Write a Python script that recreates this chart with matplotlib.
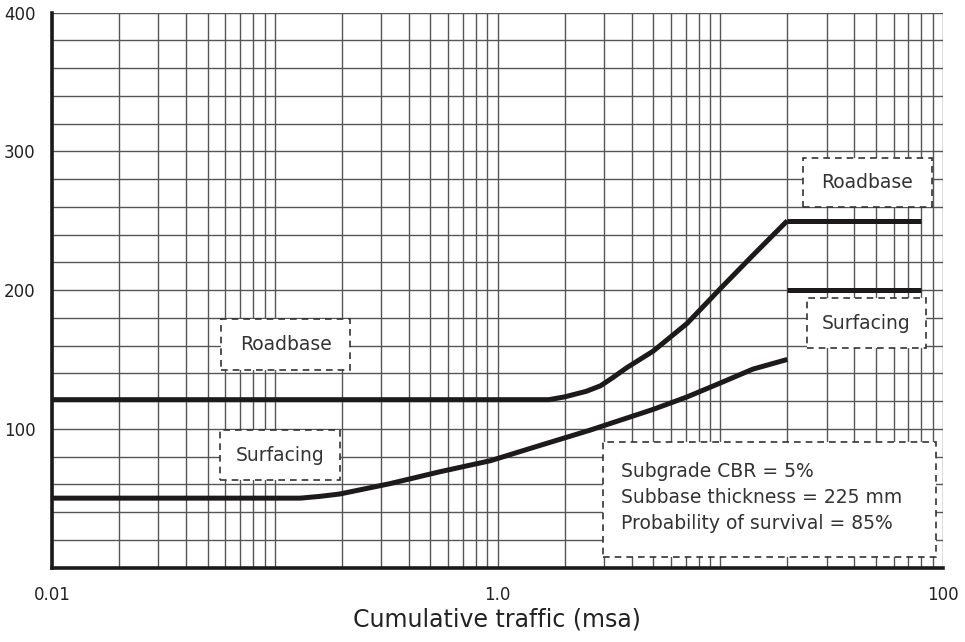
import numpy as np
import matplotlib
matplotlib.use("Agg")
import matplotlib.pyplot as plt
from matplotlib.patches import Rectangle
from matplotlib.ticker import FixedLocator, LogLocator, MultipleLocator, NullFormatter

# ---- data ----
roadbase_x = [0.01, 1.7, 2.0, 2.5, 2.9, 3.3, 3.8, 5.0, 7.1, 10.0, 14.0, 20.0]
roadbase_y = [121, 121, 123, 127, 131, 137, 144, 156, 176, 201, 225, 250]
roadbase_flat_x = [20.0, 80.0]
roadbase_flat_y = [250, 250]

surfacing_x = [0.01, 0.13, 0.16, 0.196, 0.33, 0.55, 0.93, 1.55, 2.6, 5.0, 7.1, 10.0, 14.0, 20.0]
surfacing_y = [50, 50, 51.3, 53, 60.5, 69, 77, 88, 99, 114, 123, 133, 143, 150]
surfacing_flat_x = [20.0, 80.0]
surfacing_flat_y = [200, 200]

x_ticks = [0.01, 1.0, 100]
x_tick_labels = ["0.01", "1.0", "100"]
y_ticks = [100, 200, 300, 400]
y_tick_labels = ["100", "200", "300", "400"]

info_lines = ["Subgrade CBR = 5%", "Subbase thickness = 225 mm", "Probability of survival = 85%"]

plt.rcParams['font.family'] = ['DejaVu Sans']

fig = plt.figure(figsize=(9.65, 6.42), dpi=100)
ax = fig.add_axes([52/965, 1-567.5/642, 891/965, 554.8/642])
ax.set_xscale('log')
ax.set_xlim(0.01, 100)
ax.set_ylim(0, 400)

# grid
ax.xaxis.set_major_locator(FixedLocator(x_ticks))
ax.xaxis.set_minor_locator(LogLocator(base=10, subs=np.arange(1, 10), numticks=50))
ax.xaxis.set_minor_formatter(NullFormatter())
ax.set_xticklabels(x_tick_labels)
ax.yaxis.set_major_locator(FixedLocator(y_ticks))
ax.yaxis.set_minor_locator(MultipleLocator(20))
ax.set_yticklabels(y_tick_labels)
ax.grid(True, which='both', color='#555555', linewidth=1.0)
ax.set_axisbelow(True)
ax.tick_params(which='both', length=0)
ax.tick_params(axis='x', pad=13, labelsize=12, colors='#222222')
ax.tick_params(axis='y', pad=12, labelsize=12, colors='#222222')

for s in ['top', 'right']:
    ax.spines[s].set_visible(False)
for s in ['left', 'bottom']:
    ax.spines[s].set_linewidth(2.6)
    ax.spines[s].set_color('#1a1a1a')

lc = '#1e1a1a'
ax.plot(roadbase_x, roadbase_y, color=lc, lw=3.6, solid_capstyle='butt', solid_joinstyle='round', zorder=3)
ax.plot(roadbase_flat_x, roadbase_flat_y, color=lc, lw=3.6, solid_capstyle='butt', zorder=3)
ax.plot(surfacing_x, surfacing_y, color=lc, lw=3.6, solid_capstyle='butt', solid_joinstyle='round', zorder=3)
ax.plot(surfacing_flat_x, surfacing_flat_y, color=lc, lw=3.6, solid_capstyle='butt', zorder=3)

def box(x0, x1, y0, y1):
    r = Rectangle((x0, y0), x1-x0, y1-y0, transform=ax.transAxes, facecolor='white',
                  edgecolor='#333333', linestyle=(0, (4, 3)), linewidth=1.2, zorder=4)
    ax.add_patch(r)

fs = 13.5
box(0.1897, 0.3345, 0.356, 0.448)
ax.text((0.1897+0.3345)/2, (0.356+0.448)/2, "Roadbase", transform=ax.transAxes,
        ha='center', va='center', fontsize=fs, color='#333333', zorder=5)
box(0.1886, 0.3232, 0.1577, 0.2478)
ax.text((0.1886+0.3232)/2, (0.1577+0.2478)/2, "Surfacing", transform=ax.transAxes,
        ha='center', va='center', fontsize=fs, color='#333333', zorder=5)
box(0.8425, 0.9873, 0.649, 0.7386)
ax.text((0.8425+0.9873)/2, (0.649+0.7386)/2, "Roadbase", transform=ax.transAxes,
        ha='center', va='center', fontsize=fs, color='#333333', zorder=5)
box(0.847, 0.9804, 0.395, 0.4863)
ax.text((0.847+0.9804)/2, (0.395+0.4863)/2, "Surfacing", transform=ax.transAxes,
        ha='center', va='center', fontsize=fs, color='#333333', zorder=5)
box(0.6187, 0.9921, 0.0195, 0.2267)
ys = [(567.5-471.7)/554.8, (567.5-497.7)/554.8, (567.5-523.3)/554.8]
for t, yy in zip(info_lines, ys):
    ax.text((621-52)/891, yy, t, transform=ax.transAxes, ha='left', va='center',
            fontsize=fs, color='#333333', zorder=5)

fig.text(497/965, 1-620/642, "Cumulative traffic (msa)", ha='center', va='center',
         fontsize=17, color='#222222')

fig.savefig("out.png", dpi=100)
